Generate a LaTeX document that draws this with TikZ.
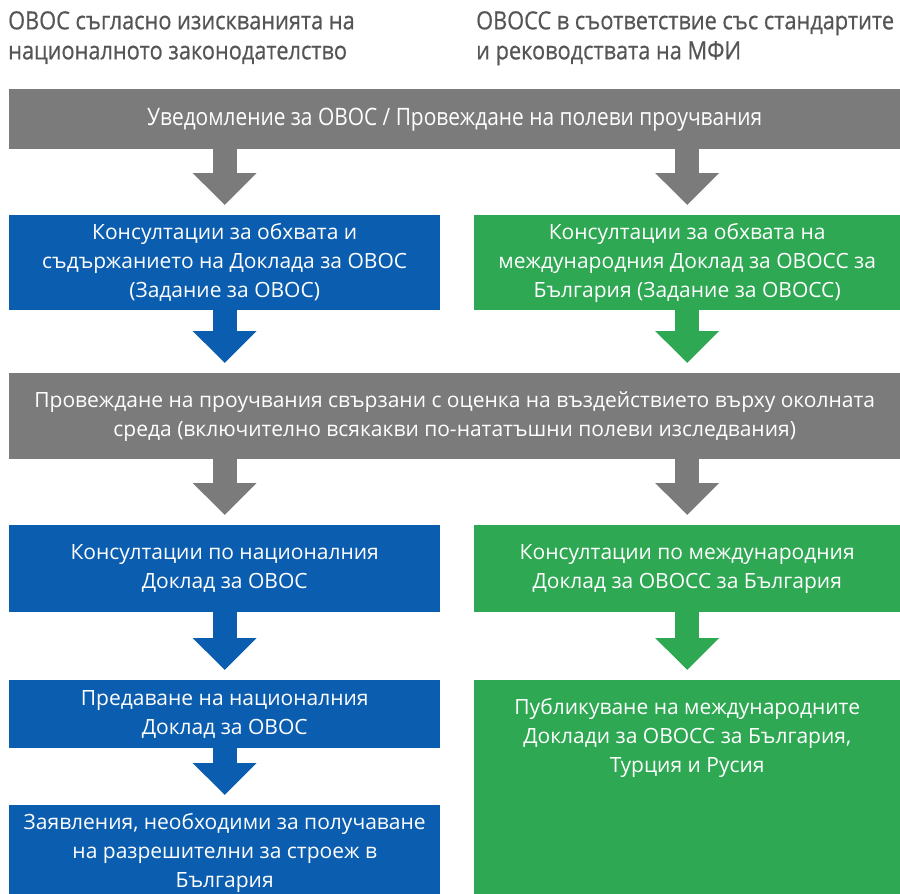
\documentclass[tikz,border=0pt]{standalone}
\usepackage{fontspec}
\setmainfont{Open Sans}
\newfontfamily\condfont[FakeStretch=0.87]{Open Sans}
\newfontfamily\headfont[FakeStretch=0.87,FakeBold=0.6]{Open Sans}
\usetikzlibrary{arrows.meta}
\definecolor{bargray}{HTML}{7B7B7B}
\definecolor{boxblue}{HTML}{0B5DB0}
\definecolor{boxgreen}{HTML}{2EA853}
\definecolor{headgray}{HTML}{555555}

\begin{document}
\begin{tikzpicture}[x=1pt, y=-1pt,
    box/.style={anchor=north west, inner sep=0pt, text=white, align=center,
      font=\fontsize{21}{29}\selectfont},
    barbox/.style={box, fill=bargray, minimum width=891pt},
    bluebox/.style={box, fill=boxblue, minimum width=431pt},
    greenbox/.style={box, fill=boxgreen, minimum width=426pt},
    headtext/.style={anchor=north west, inner sep=0pt, align=left, text=headgray,
      font=\headfont\fontsize{25}{30}\selectfont},
    fatarrow/.style={line width=24pt, -{Triangle[width=62pt,length=32pt]}, shorten >=10pt}
  ]
    \useasboundingbox (0,0) rectangle (900,894);

    \node[headtext] (headnat) at (8,11)
      {ОВОС съгласно изискванията на\\националното законодателство};
    \node[headtext] (headint) at (476,11)
      {ОВОСС в съответствие със стандартите\\и реководствата на МФИ};

    \node[barbox, minimum height=60pt, font=\condfont\fontsize{24}{30}\selectfont] (notice) at (9,89)
      {Уведомление за ОВОС / Провеждане на полеви проучвания};

    \node[bluebox, minimum height=95pt] (scopenat) at (9,215)
      {Консултации за обхвата и\\съдържанието на Доклада за ОВОС\\(Задание за ОВОС)};
    \node[greenbox, minimum height=95pt] (scopeint) at (474,215)
      {Консултации за обхвата на\\международния Доклад за ОВОСС за\\България (Задание за ОВОСС)};

    \node[barbox, minimum height=86pt] (studies) at (9,373)
      {Провеждане на проучвания свързани с оценка на въздействието върху околната\\среда (включително всякакви по-нататъшни полеви изследвания)};

    \node[bluebox, minimum height=87pt] (consnat) at (9,525)
      {Консултации по националния\\Доклад за ОВОС};
    \node[greenbox, minimum height=87pt] (consint) at (474,525)
      {Консултации по международния\\Доклад за ОВОСС за България};

    \node[bluebox, minimum height=68pt] (submit) at (9,680)
      {Предаване на националния\\Доклад за ОВОС};
    \node[greenbox, minimum height=230pt] (publish) at (474,680) {};
    \node[box, anchor=north] (publishtext) at ([yshift=-18pt]publish.north)
      {Публикуване на международните\\Доклади за ОВОСС за България,\\Турция и Русия};

    \node[bluebox, minimum height=96pt] (permits) at (9,805)
      {Заявления, необходими за получаване\\на разрешителни за строеж в\\България};

    \draw[fatarrow, bargray] (notice.south -| scopenat.north) -- (scopenat.north);
    \draw[fatarrow, bargray] (notice.south -| scopeint.north) -- (scopeint.north);
    \draw[fatarrow, boxblue] (scopenat.south) -- (studies.north -| scopenat.south);
    \draw[fatarrow, boxgreen] (scopeint.south) -- (studies.north -| scopeint.south);
    \draw[fatarrow, bargray] (studies.south -| consnat.north) -- (consnat.north);
    \draw[fatarrow, bargray] (studies.south -| consint.north) -- (consint.north);
    \draw[fatarrow, boxblue] (consnat.south) -- (submit.north);
    \draw[fatarrow, boxgreen] (consint.south) -- (publish.north);
    \draw[fatarrow, boxblue] (submit.south) -- (permits.north);
  \end{tikzpicture}
\end{document}
